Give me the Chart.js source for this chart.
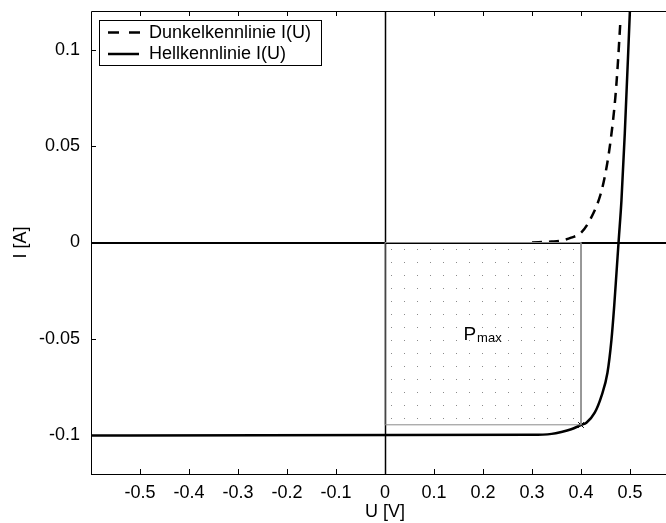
<!DOCTYPE html>
<html>
<head>
<meta charset="utf-8">
<script src="https://cdn.jsdelivr.net/npm/chart.js@4.4.1/dist/chart.umd.min.js"></script>
<style>
  html, body { margin: 0; padding: 0; background: #fff; overflow: hidden; }
  #wrap { width: 684px; height: 523px; }
</style>
</head>
<body>
<div id="wrap"><canvas id="c" width="684" height="523"></canvas></div>
<script>
// Kennlinien der Solarzelle
const uDark = [0.30, 0.34, 0.36, 0.38, 0.40, 0.42, 0.44, 0.45, 0.46, 0.47, 0.475, 0.48]
const iDark = [0, 0.0005, 0.001, 0.0025, 0.005, 0.0125, 0.025, 0.036, 0.052, 0.075, 0.092, 0.113]

const uLight = [-0.6, 0.30, 0.34, 0.36, 0.38, 0.40, 0.411, 0.428, 0.4417, 0.454, 0.4622, 0.4677, 0.4724, 0.477, 0.4826, 0.4894, 0.4998]
const iLight = [-0.1, -0.0997, -0.0992, -0.0982, -0.0968, -0.0946, -0.0934, -0.0882, -0.0796, -0.0675, -0.0503, -0.0331, -0.0158, 0.0014, 0.022, 0.0567, 0.12]

// Rechteck der maximalen Leistung
const rectU = [0, 0.4, 0.4, 0, 0]
const rectI = [0, 0, -0.0945, -0.0945, 0]
const mppU = [0.4]
const mppI = [-0.0946]

const xTicks = [-0.5, -0.4, -0.3, -0.2, -0.1, 0, 0.1, 0.2, 0.3, 0.4, 0.5]
const yTicks = [-0.1, -0.05, 0, 0.05, 0.1]
const labels = ['Dunkelkennlinie I(U)', 'Hellkennlinie I(U)']

const FONT = '"Liberation Sans", Arial, Helvetica, sans-serif'
const toPts = (xs, ys) => xs.map((x, i) => ({ x, y: ys[i] }))

const canvas = document.getElementById('c')
const ctx = canvas.getContext('2d')

// dotted fill
const tile = document.createElement('canvas')
tile.width = 13
tile.height = 13
const tg = tile.getContext('2d')
tg.fillStyle = '#8a8a8a'
tg.fillRect(1, 2, 1, 1)
const dots = ctx.createPattern(tile, 'repeat')

const framePlugin = {
  id: 'frame',
  beforeDatasetsDraw (chart) {
    const { ctx, chartArea: a, scales: { x, y } } = chart
    ctx.save()
    ctx.strokeStyle = '#000'
    const x0 = Math.round(x.getPixelForValue(0)) + 0.5
    const y0 = Math.round(y.getPixelForValue(0))
    ctx.lineWidth = 2
    ctx.beginPath()
    ctx.moveTo(a.left, y0); ctx.lineTo(a.right, y0)
    ctx.stroke()
    ctx.lineWidth = 1.5
    ctx.beginPath()
    ctx.moveTo(x0, a.top); ctx.lineTo(x0, a.bottom)
    ctx.stroke()
    ctx.restore()
  },
  afterDatasetsDraw (chart) {
    const { ctx, chartArea: a, scales: { x, y } } = chart
    ctx.save()
    ctx.strokeStyle = '#000'
    ctx.lineWidth = 1
    ctx.beginPath()
    ctx.moveTo(a.left + 0.5, a.bottom + 0.5)
    ctx.lineTo(a.left + 0.5, a.top + 0.5)
    ctx.lineTo(a.right, a.top + 0.5)
    ctx.moveTo(a.left, a.bottom + 0.5)
    ctx.lineTo(a.right, a.bottom + 0.5)
    xTicks.forEach(v => {
      const px = Math.round(x.getPixelForValue(v)) + 0.5
      ctx.moveTo(px, a.top); ctx.lineTo(px, a.top + 5)
      ctx.moveTo(px, a.bottom); ctx.lineTo(px, a.bottom - 5)
    })
    yTicks.forEach(v => {
      const py = Math.round(y.getPixelForValue(v)) + 0.5
      ctx.moveTo(a.left, py); ctx.lineTo(a.left + 5, py)
    })
    ctx.stroke()

    // P_max label
    ctx.fillStyle = '#000'
    ctx.textBaseline = 'alphabetic'
    ctx.textAlign = 'left'
    const px = x.getPixelForValue(0.16)
    const py = y.getPixelForValue(-0.0503)
    ctx.font = '19px ' + FONT
    ctx.fillText('P', px, py)
    const w = ctx.measureText('P').width
    ctx.font = '13px ' + FONT
    ctx.fillText('max', px + w + 1, py + 2)

    // legend
    const lx = 99.5, ly = 20.5, lw = 222, lh = 45
    ctx.fillStyle = '#fff'
    ctx.fillRect(lx, ly, lw, lh)
    ctx.strokeRect(lx, ly, lw, lh)
    ctx.lineWidth = 2.5
    ctx.beginPath()
    ctx.setLineDash([11, 10])
    ctx.moveTo(108, 32.5); ctx.lineTo(141, 32.5)
    ctx.stroke()
    ctx.setLineDash([])
    ctx.beginPath()
    ctx.moveTo(108, 54); ctx.lineTo(139, 54)
    ctx.stroke()
    ctx.fillStyle = '#000'
    ctx.font = '18px ' + FONT
    ctx.textBaseline = 'middle'
    ctx.fillText(labels[0], 149, 33)
    ctx.fillText(labels[1], 149, 54)
    ctx.restore()
  }
}

new Chart(ctx, {
  type: 'scatter',
  data: {
    datasets: [
      {
        label: 'Pmax',
        data: toPts(rectU, rectI),
        showLine: true,
        borderColor: '#8a8a8a',
        borderWidth: 1,
        backgroundColor: dots,
        fill: 'shape',
        pointRadius: 0,
        tension: 0
      },
      {
        label: labels[0],
        data: toPts(uDark, iDark),
        showLine: true,
        borderColor: '#000',
        borderWidth: 2.5,
        borderDash: [10, 7],
        pointRadius: 0,
        fill: false,
        cubicInterpolationMode: 'monotone'
      },
      {
        label: labels[1],
        data: toPts(uLight, iLight),
        showLine: true,
        borderColor: '#000',
        borderWidth: 2.5,
        pointRadius: 0,
        fill: false,
        cubicInterpolationMode: 'monotone'
      },
      {
        label: 'MPP',
        data: toPts(mppU, mppI),
        showLine: false,
        pointStyle: 'crossRot',
        pointRadius: 4,
        borderColor: '#000',
        borderWidth: 1
      }
    ]
  },
  options: {
    responsive: false,
    animation: false,
    layout: { padding: { top: 11, left: 0, right: 0, bottom: 0 } },
    plugins: { legend: { display: false }, tooltip: { enabled: false } },
    scales: {
      x: {
        type: 'linear',
        min: -0.6,
        max: 0.6,
        afterBuildTicks: s => { s.ticks = xTicks.map(v => ({ value: v })) },
        afterFit: s => { s.height = 49 },
        grid: { display: false, drawTicks: false },
        border: { display: false },
        ticks: {
          color: '#000',
          padding: 8,
          font: { family: FONT, size: 18 },
          callback: v => String(Math.round(v * 10) / 10)
        },
        title: {
          display: true,
          text: 'U [V]',
          color: '#000',
          padding: { top: 0, bottom: 0 },
          font: { family: FONT, size: 18 }
        }
      },
      y: {
        type: 'linear',
        min: -0.12,
        max: 0.12,
        afterBuildTicks: s => { s.ticks = yTicks.map(v => ({ value: v })) },
        afterFit: s => { s.width = 91; s.paddingTop = 0; s.paddingBottom = 0 },
        grid: { display: false, drawTicks: false },
        border: { display: false },
        ticks: {
          color: '#000',
          padding: 11,
          font: { family: FONT, size: 18 },
          callback: v => String(Math.round(v * 100) / 100)
        },
        title: {
          display: true,
          text: 'I [A]',
          color: '#000',
          padding: { top: 10, bottom: 6 },
          font: { family: FONT, size: 18 }
        }
      }
    }
  },
  plugins: [framePlugin]
})
</script>
</body>
</html>
